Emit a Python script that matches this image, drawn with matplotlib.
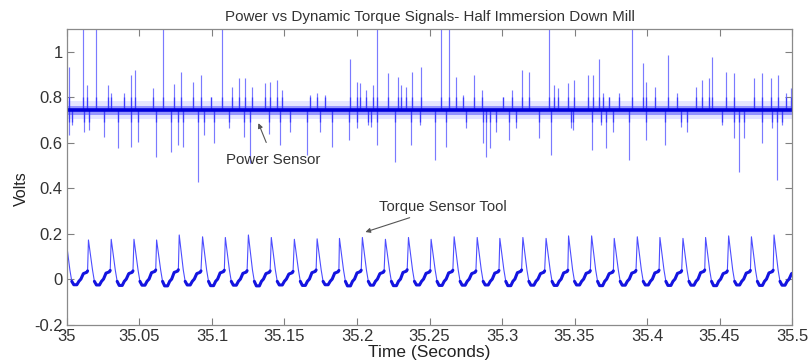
import numpy as np
import matplotlib
matplotlib.use("Agg")
import matplotlib.pyplot as plt

plt.rcParams['font.family'] = ['Liberation Sans', 'DejaVu Sans']

# ---------------- data ----------------
title = "Power vs Dynamic Torque Signals- Half Immersion Down Mill"
x_label = "Time (Seconds)"
y_label = "Volts"
x_ticks = [35, 35.05, 35.1, 35.15, 35.2, 35.25, 35.3, 35.35, 35.4, 35.45, 35.5]
x_tick_labels = ["35", "35.05", "35.1", "35.15", "35.2", "35.25", "35.3", "35.35", "35.4", "35.45", "35.5"]
y_ticks = [-0.2, 0, 0.2, 0.4, 0.6, 0.8, 1]
y_tick_labels = ["-0.2", "0", "0.2", "0.4", "0.6", "0.8", "1"]

# Power sensor: baseline level, band limits and spike tips
power_base = 0.742
power_haze_low = 0.705
power_haze_high = 0.782
power_core_low = 0.724
power_core_high = 0.760
power_up_t = [35.0015, 35.0107, 35.0135, 35.0199, 35.0280, 35.0303, 35.0395, 35.0441, 35.0469,
              35.0590, 35.0659, 35.0740, 35.0786, 35.0866, 35.0924, 35.0993, 35.1069, 35.1138,
              35.1184, 35.1230, 35.1276, 35.1368, 35.1402, 35.1449, 35.1483, 35.1678, 35.1725,
              35.1782, 35.1954, 35.2001, 35.2019, 35.2065, 35.2111, 35.2139, 35.2215, 35.2284,
              35.2306, 35.2341, 35.2382, 35.2444, 35.2576, 35.2636, 35.2686, 35.2732, 35.2805,
              35.2859, 35.3008, 35.3072, 35.3141, 35.3188, 35.3326, 35.3360, 35.3383, 35.3452,
              35.3498, 35.3590, 35.3625, 35.3671, 35.3694, 35.3740, 35.3809, 35.3896, 35.3970,
              35.3992, 35.4055, 35.4147, 35.4209, 35.4335, 35.4382, 35.4427, 35.4451, 35.4542,
              35.4600, 35.4738, 35.4791, 35.4853, 35.4906, 35.4957, 35.4991]
power_up_v = [0.934, 1.30, 0.853, 1.30, 0.853, 0.817, 0.820, 0.897, 0.920,
              0.839, 1.30, 0.860, 0.912, 0.868, 0.897, 0.800, 1.30, 0.846,
              0.883, 0.883, 0.846, 0.861, 0.868, 0.876, 0.831, 0.810, 0.817,
              0.810, 0.970, 0.868, 0.861, 0.831, 0.853, 1.30, 0.905, 0.890,
              0.853, 0.846, 0.912, 0.934, 1.30, 1.30, 0.890, 0.810, 0.897,
              0.831, 0.800, 0.831, 0.920, 0.912, 1.30, 0.853, 0.839, 0.861,
              0.876, 0.897, 0.897, 0.970, 0.820, 0.800, 0.820, 1.30, 0.949,
              0.868, 0.846, 0.985, 0.820, 0.846, 0.876, 0.883, 0.978, 0.912,
              0.905, 0.883, 0.905, 0.883, 0.897, 0.820, 0.839]
power_down_t = [35.0015, 35.0038, 35.0119, 35.0153, 35.0257, 35.0349, 35.0441, 35.0487, 35.0614,
                35.0717, 35.0763, 35.0797, 35.0901, 35.0947, 35.1011, 35.1115, 35.1218, 35.1264,
                35.1391, 35.1471, 35.1540, 35.1656, 35.1747, 35.1828, 35.1943, 35.2001, 35.2077,
                35.2099, 35.2139, 35.2260, 35.2375, 35.2433, 35.2541, 35.2617, 35.2755, 35.2870,
                35.2893, 35.2916, 35.2962, 35.3050, 35.3095, 35.3257, 35.3337, 35.3475, 35.3487,
                35.3620, 35.3682, 35.3716, 35.3763, 35.3878, 35.3992, 35.4124, 35.4232, 35.4278,
                35.4520, 35.4600, 35.4634, 35.4669, 35.4796, 35.4865, 35.4899, 35.4934]
power_down_v = [0.634, 0.678, 0.648, 0.656, 0.626, 0.575, 0.582, 0.604, 0.538,
                0.560, 0.590, 0.582, 0.428, 0.634, 0.597, 0.663, 0.626, 0.510,
                0.640, 0.590, 0.648, 0.546, 0.648, 0.582, 0.612, 0.663, 0.678,
                0.670, 0.590, 0.516, 0.590, 0.678, 0.524, 0.582, 0.663, 0.597,
                0.538, 0.575, 0.648, 0.612, 0.663, 0.620, 0.546, 0.663, 0.656,
                0.568, 0.678, 0.575, 0.648, 0.524, 0.612, 0.590, 0.670, 0.648,
                0.678, 0.620, 0.472, 0.620, 0.597, 0.663, 0.436, 0.678]

# Torque sensor: per-cycle peak time, peak value, trough value, plateau value
torque_peak_t = [34.9992, 35.0148, 35.0305, 35.0462, 35.0618, 35.0774, 35.0935, 35.1092, 35.1251,
                 35.1409, 35.1568, 35.1725, 35.1879, 35.2037, 35.2196, 35.2355, 35.2511, 35.2670,
                 35.2829, 35.2985, 35.3144, 35.3304, 35.3459, 35.3618, 35.3774, 35.3933, 35.4089,
                 35.4248, 35.4404, 35.4563, 35.4720, 35.4876, 35.5032]
torque_peak_v = [0.180, 0.172, 0.175, 0.175, 0.172, 0.194, 0.186, 0.183, 0.194,
                 0.183, 0.175, 0.177, 0.179, 0.183, 0.175, 0.183, 0.175, 0.186,
                 0.183, 0.179, 0.183, 0.179, 0.190, 0.190, 0.179, 0.186, 0.183,
                 0.179, 0.183, 0.190, 0.186, 0.194, 0.180]
torque_trough_v = [-0.025, -0.026, -0.028, -0.027, -0.030, -0.026, -0.029, -0.027, -0.030,
                   -0.026, -0.028, -0.025, -0.030, -0.027, -0.029, -0.026, -0.028, -0.027,
                   -0.026, -0.029, -0.027, -0.028, -0.026, -0.029, -0.027, -0.026, -0.028,
                   -0.027, -0.029, -0.026, -0.028, -0.027, -0.027]
torque_plateau_v = [0.030, 0.032, 0.030, 0.034, 0.035, 0.030, 0.033, 0.031, 0.030,
                    0.028, 0.034, 0.032, 0.033, 0.030, 0.035, 0.031, 0.033, 0.030,
                    0.032, 0.034, 0.030, 0.033, 0.031, 0.030, 0.032, 0.033, 0.031,
                    0.034, 0.030, 0.032, 0.033, 0.030, 0.032]

# ---------------- figure ----------------
fig = plt.figure(figsize=(8.11, 3.64), dpi=100)
ax = fig.add_axes([0.0826, 0.1085, 0.8940, 0.8115])
ax.set_xlim(35, 35.5)
ax.set_ylim(-0.2, 1.1)

blue = (0.0, 0.0, 1.0)
spike_col = (0.48, 0.48, 1.0)

# power sensor haze, spikes and dense core
ax.fill_between([35, 35.5], [power_haze_low] * 2, [power_haze_high] * 2,
                color=blue, alpha=0.10, lw=0)
ax.fill_between([35, 35.5], [power_core_low] * 2, [power_core_high] * 2,
                color=blue, alpha=0.35, lw=0)
ax.vlines(power_up_t, power_base, power_up_v, color=spike_col, lw=0.85)
ax.vlines(power_down_t, power_down_v, power_base, color=spike_col, lw=0.85)
ax.vlines(power_up_t, power_base, [min(v, 0.80) for v in power_up_v], color=blue, lw=1.0, alpha=0.5)
ax.vlines(power_down_t, [max(v, 0.69) for v in power_down_v], power_base, color=blue, lw=1.0, alpha=0.5)
ax.plot([35, 35.5], [power_base, power_base], color=(0.0, 0.0, 0.85), lw=2.6,
        solid_capstyle='butt')

# torque sensor: vertices per cycle
tt, tv = [], []
low_t, low_v = [], []
for i in range(len(torque_peak_t)):
    p = torque_peak_t[i]
    tr = torque_trough_v[i]
    pl = torque_plateau_v[i]
    seg_t = [p, p + 0.0028, p + 0.0041, p + 0.0055, p + 0.0076, p + 0.0090,
             p + 0.0104, p + 0.0121, p + 0.0145, p + 0.0150]
    seg_v = [torque_peak_v[i], 0.040, -0.010, tr, tr, -0.010, 0.0, pl - 0.006, pl, pl + 0.006]
    tt += seg_t
    tv += seg_v
    low_t.append(seg_t[2:])
    low_v.append(seg_v[2:])
ax.plot(tt, tv, color=(0.3, 0.3, 1.0), lw=0.8)
for a, b in zip(low_t, low_v):
    ax.plot(a, b, color=(0.08, 0.08, 0.88), lw=2.2, solid_capstyle='round')

# annotations
ax.annotate("Power Sensor", xy=(35.132, 0.686), xytext=(35.1423, 0.524),
            ha='center', va='center', fontsize=10.8, color='#333333',
            arrowprops=dict(arrowstyle='-|>', color='#555555', lw=0.8,
                            mutation_scale=7, shrinkA=6, shrinkB=0))
ax.annotate("Torque Sensor Tool", xy=(35.2058, 0.207), xytext=(35.2149, 0.317),
            ha='left', va='center', fontsize=10.6, color='#333333',
            arrowprops=dict(arrowstyle='-|>', color='#555555', lw=0.8,
                            mutation_scale=7, shrinkA=2, shrinkB=0))

# axes styling (box with inward ticks)
ax.set_xticks(x_ticks)
ax.set_xticklabels(x_tick_labels)
ax.set_yticks(y_ticks)
ax.set_yticklabels(y_tick_labels)
ax.tick_params(direction='in', top=True, right=True, length=5, width=0.8,
               color='#808080', labelsize=12, labelcolor='#333333', pad=3)
for s in ax.spines.values():
    s.set_color('#8a8a8a')
    s.set_linewidth(0.9)

ax.set_title(title, fontsize=10.9, color='#333333', pad=6)
ax.set_xlabel(x_label, fontsize=12.5, color='#222222', labelpad=1)
ax.set_ylabel(y_label, fontsize=11.5, color='#222222')
ax.yaxis.set_label_coords(-0.052, 0.46)

fig.savefig("out.png", dpi=100, facecolor='white')
